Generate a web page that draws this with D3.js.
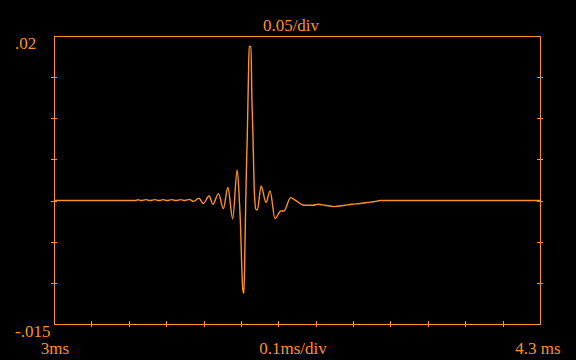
<!DOCTYPE html>
<meta charset="utf-8">

<script src="https://d3js.org/d3.v7.min.js"></script>

<style type="text/css">

body {
  margin: 0;
  background: #000;
}
.axis path {
  stroke: none;
}
.axis .tick line {
  stroke: #ff9128;
  shape-rendering: crispEdges;
}
.axis text {
  display: none;
}
.frame {
  fill: none;
  stroke: #ff9128;
  shape-rendering: crispEdges;
}
.trace {
  fill: none;
  stroke: #ff9128;
  stroke-width: 1.4;
}
.label {
  font: 17px "Liberation Serif", serif;
  fill: #ff9128;
}

</style>

<body>
</body>

<script>

// waveform: time in ms, amplitude in volts
var timeMs = [3.000, 3.219, 3.224, 3.233, 3.246, 3.257, 3.270, 3.281, 3.292, 3.302,
  3.315, 3.326, 3.339, 3.350, 3.362, 3.373, 3.388, 3.399, 3.415, 3.425,
  3.440, 3.453, 3.465, 3.478, 3.490, 3.496, 3.499, 3.502, 3.505, 3.508,
  3.511, 3.514, 3.517, 3.520, 3.522, 3.527, 3.529, 3.532, 3.536, 3.540,
  3.544, 3.554, 3.567, 3.578, 3.591, 3.607, 3.615, 3.633, 3.647, 3.669,
  3.693, 3.706, 3.725, 3.749, 3.778, 3.797, 3.819, 3.837, 3.859, 3.872,
  4.300];
var volts = [0, 0, 0.00012, 0, 0.00012, 0, 0.00012, 0, 0.00012, 0,
  0.00012, 0, 0.00012, 0, 0.00015, -0.0001, 0.00028, -0.00036, 0.00056, -0.00045,
  0.00085, -0.00097, 0.00158, -0.00219, 0.00372, -0.00012, -0.00309, -0.00775, -0.01079, -0.01127,
  -0.00492, 0.00238, 0.00786, 0.01474, 0.01872, 0.01872, 0.01314, 0.00819, 0.00101, -0.00106,
  -0.00114, 0.00178, -0.00024, 0.00117, -0.00219, -0.00126, -0.00126, 0.00036, 0, -0.00057,
  -0.00057, -0.00045, -0.00057, -0.00073, -0.00057, -0.00045, -0.00036, -0.00024, -0.00012, 0,
  0];

var yTicks = [-0.01, -0.005, 0, 0.005, 0.01, 0.015];
var xTicks = [3.1, 3.2, 3.3, 3.4, 3.5, 3.6, 3.7, 3.8, 3.9, 4.0, 4.1, 4.2];

var yTopLabel = ".02",
    yBottomLabel = "-.015",
    yScaleLabel = "0.05/div",
    xStartLabel = "3ms",
    xScaleLabel = "0.1ms/div",
    xEndLabel = "4.3 ms";

var margin = {top: 36, right: 36, bottom: 36, left: 54};
var width = 576 - margin.left - margin.right,
    height = 360 - margin.top - margin.bottom;

var svg = d3.select("body").append("svg")
  .attr("width", 576)
  .attr("height", 360);

var g = svg.append("g")
  .attr("transform", "translate(" + margin.left + "," + margin.top + ")");

var xScale = d3.scaleLinear()
  .domain([3, 4.3])
  .range([0, width]);

var yScale = d3.scaleLinear()
  .domain([-0.015, 0.02])
  .range([height, 0]);

// ticks cross the frame, 3px each side
g.append("g")
  .attr("class", "axis y left")
  .attr("transform", "translate(-3,0)")
  .call(d3.axisLeft(yScale).tickValues(yTicks).tickSize(-6));

g.append("g")
  .attr("class", "axis y right")
  .attr("transform", "translate(" + (width - 3) + ",0)")
  .call(d3.axisLeft(yScale).tickValues(yTicks).tickSize(-6));

g.append("g")
  .attr("class", "axis x")
  .attr("transform", "translate(0," + (height + 3) + ")")
  .call(d3.axisBottom(xScale).tickValues(xTicks).tickSize(-6));

g.append("rect")
  .attr("class", "frame")
  .attr("x", 0.5)
  .attr("y", 0.5)
  .attr("width", width)
  .attr("height", height);

var line = d3.line()
  .x(function(d, i) { return xScale(timeMs[i]); })
  .y(function(d) { return yScale(d); })
  .curve(d3.curveMonotoneX);

g.append("path")
  .attr("class", "trace")
  .attr("d", line(volts));

svg.append("text")
  .attr("class", "label")
  .attr("x", 15)
  .attr("y", 49)
  .text(yTopLabel);

svg.append("text")
  .attr("class", "label")
  .attr("x", 15)
  .attr("y", 337)
  .text(yBottomLabel);

svg.append("text")
  .attr("class", "label")
  .attr("x", 291)
  .attr("y", 31)
  .attr("text-anchor", "middle")
  .text(yScaleLabel);

svg.append("text")
  .attr("class", "label")
  .attr("x", margin.left + 1)
  .attr("y", 354)
  .attr("text-anchor", "middle")
  .text(xStartLabel);

svg.append("text")
  .attr("class", "label")
  .attr("x", 293)
  .attr("y", 354)
  .attr("text-anchor", "middle")
  .text(xScaleLabel);

svg.append("text")
  .attr("class", "label")
  .attr("x", margin.left + width - 2)
  .attr("y", 354)
  .attr("text-anchor", "middle")
  .text(xEndLabel);

</script>
